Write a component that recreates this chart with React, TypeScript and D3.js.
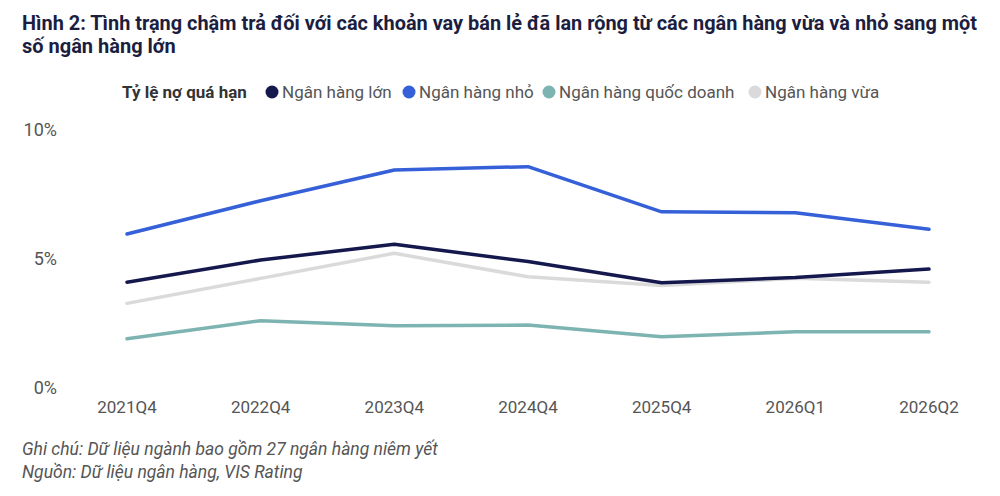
import React, { useEffect, useRef } from 'react'
import * as d3 from 'd3'

const categories = ['2021Q4', '2022Q4', '2023Q4', '2024Q4', '2025Q4', '2026Q1', '2026Q2']
const seriesNames = ['Ngân hàng lớn', 'Ngân hàng nhỏ', 'Ngân hàng quốc doanh', 'Ngân hàng vừa']
const largeBanks = [4.1, 4.96, 5.57, 4.9, 4.08, 4.28, 4.61]
const smallBanks = [5.97, 7.26, 8.45, 8.58, 6.83, 6.79, 6.15]
const stateBanks = [1.91, 2.61, 2.41, 2.44, 1.99, 2.18, 2.18]
const mediumBanks = [3.28, 4.25, 5.22, 4.31, 3.97, 4.25, 4.1]
const yTicks = [0, 5, 10]

const colors = ['#15184d', '#3560d8', '#7db4b1', '#dadada']

const width = 1000
const height = 496

export default function App() {
    const svgRef = useRef<SVGSVGElement>(null)

    useEffect(() => {
        document.body.style.margin = '0'
        if (!svgRef.current) return
        const svg = d3.select(svgRef.current)
        svg.selectAll('*').remove()

        const font = 'Roboto, "Noto Sans", sans-serif'

        // Title
        const title = svg.append('g').attr('font-family', font).attr('font-weight', 700)
            .attr('font-size', 20).attr('fill', '#1b1e3f')
        title.append('text').attr('x', 22).attr('y', 30)
            .attr('textLength', 955).attr('lengthAdjust', 'spacingAndGlyphs')
            .text('Hình 2: Tình trạng chậm trả đối với các khoản vay bán lẻ đã lan rộng từ các ngân hàng vừa và nhỏ sang một')
        title.append('text').attr('x', 22).attr('y', 53).text('số ngân hàng lớn')

        // Legend
        const legend = svg.append('g').attr('font-family', font).attr('font-size', 17)
        legend.append('text').attr('x', 122).attr('y', 98).attr('font-weight', 700)
            .attr('fill', '#333').text('Tỷ lệ nợ quá hạn')
        const legendX = [272, 409, 549, 755]
        seriesNames.forEach((name, i) => {
            legend.append('circle').attr('cx', legendX[i]).attr('cy', 92).attr('r', 6.5).attr('fill', colors[i])
            legend.append('text').attr('x', legendX[i] + 10).attr('y', 98).attr('fill', '#555').text(name)
        })

        const x = d3.scalePoint().domain(categories).range([127, 929])
        const y = d3.scaleLinear().domain([0, 10]).range([388, 130])

        // Y axis labels
        svg.append('g').selectAll('text').data(yTicks).enter().append('text')
            .attr('x', 57).attr('y', d => y(d)).attr('dy', '0.35em')
            .attr('text-anchor', 'end').attr('font-family', font).attr('font-size', 18)
            .attr('fill', '#555').text(d => d + '%')

        // X axis labels
        svg.append('g').selectAll('text').data(categories).enter().append('text')
            .attr('x', d => x(d) || 0).attr('y', 413)
            .attr('text-anchor', 'middle').attr('font-family', font).attr('font-size', 17)
            .attr('fill', '#555').text(d => d)

        // Lines (drawn light to dark so dark ones sit on top)
        const series = [mediumBanks, stateBanks, smallBanks, largeBanks]
        const seriesColors = [colors[3], colors[2], colors[1], colors[0]]
        const line = d3.line<number>()
            .x((_, i) => x(categories[i]) || 0)
            .y(d => y(d))
        series.forEach((values, i) => {
            svg.append('path').datum(values)
                .attr('d', line)
                .attr('fill', 'none')
                .attr('stroke', seriesColors[i])
                .attr('stroke-width', 3.5)
                .attr('stroke-linejoin', 'round')
                .attr('stroke-linecap', 'round')
        })

        // Notes
        const notes = svg.append('g').attr('font-family', font).attr('font-style', 'italic')
            .attr('font-size', 17.5).attr('fill', '#555')
        notes.append('text').attr('x', 22).attr('y', 455).text('Ghi chú: Dữ liệu ngành bao gồm 27 ngân hàng niêm yết')
        notes.append('text').attr('x', 22).attr('y', 478).text('Nguồn: Dữ liệu ngân hàng, VIS Rating')
    }, [])

    return (
        <svg ref={svgRef} width={width} height={height} viewBox={`0 0 ${width} ${height}`}
            style={{ display: 'block', background: '#fff' }} />
    )
}
